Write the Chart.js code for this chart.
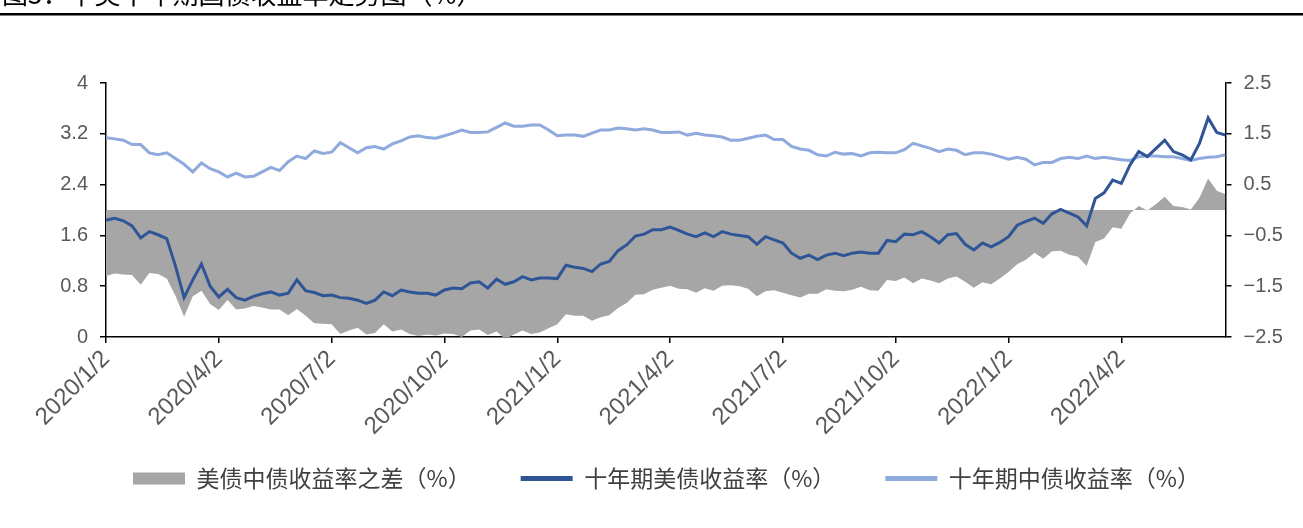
<!DOCTYPE html>
<html lang="zh-CN">
<head>
<meta charset="UTF-8">
<title>中美十年期国债收益率</title>
<script src="https://cdn.jsdelivr.net/npm/chart.js@4.4.1/dist/chart.umd.min.js"></script>
<style>
  html, body { margin: 0; padding: 0; background: #fff; }
  #wrap { width: 1303px; height: 528px; }
</style>
</head>
<body>
<div id="wrap"><canvas id="grafico" width="1303" height="528"></canvas></div>
<script>
const tituloTexto = '图5：中美十年期国债收益率走势图（%）';

// one point per week, 13 weeks per quarter label
const rotulosData = ['2020/1/2', '2020/4/2', '2020/7/2', '2020/10/2', '2021/1/2',
                     '2021/4/2', '2021/7/2', '2021/10/2', '2022/1/2', '2022/4/2'];
const semanasTrimestre = 13;
const ticksEsquerda = [0, 0.8, 1.6, 2.4, 3.2, 4];
const ticksDireita = [-2.5, -1.5, -0.5, 0.5, 1.5, 2.5];

const nomeDiferenca = '美债中债收益率之差（%）';
const nomeEUA = '十年期美债收益率（%）';
const nomeChina = '十年期中债收益率（%）';

const rendEUA = [
  1.84, 1.87, 1.83, 1.75, 1.56, 1.66, 1.61, 1.55, 1.12, 0.62,
  0.90, 1.15, 0.80, 0.63, 0.75, 0.62, 0.58, 0.64, 0.68, 0.71,
  0.66, 0.69, 0.90, 0.73, 0.70, 0.65, 0.66, 0.62, 0.61, 0.58,
  0.53, 0.58, 0.71, 0.65, 0.74, 0.71, 0.69, 0.69, 0.66, 0.74,
  0.77, 0.76, 0.85, 0.87, 0.77, 0.91, 0.83, 0.87, 0.95, 0.90,
  0.93, 0.93, 0.92, 1.13, 1.10, 1.08, 1.03, 1.15, 1.19, 1.36,
  1.45, 1.59, 1.62, 1.69, 1.69, 1.73, 1.68, 1.62, 1.58, 1.64,
  1.58, 1.66, 1.62, 1.60, 1.58, 1.46, 1.58, 1.53, 1.48, 1.32,
  1.24, 1.29, 1.22, 1.29, 1.32, 1.28, 1.32, 1.34, 1.32, 1.32,
  1.52, 1.50, 1.62, 1.61, 1.66, 1.58, 1.48, 1.61, 1.63, 1.46,
  1.37, 1.48, 1.42, 1.49, 1.58, 1.76, 1.82, 1.87, 1.79, 1.94,
  2.01, 1.95, 1.89, 1.75, 2.18, 2.27, 2.47, 2.42, 2.71, 2.92,
  2.84, 2.97, 3.10, 2.92, 2.87, 2.79, 3.05, 3.45, 3.22, 3.18
];

const rendChina = [
  3.14, 3.12, 3.10, 3.03, 3.03, 2.90, 2.87, 2.90, 2.81, 2.72,
  2.60, 2.74, 2.65, 2.60, 2.52, 2.58, 2.52, 2.53, 2.60, 2.67,
  2.62, 2.76, 2.85, 2.81, 2.93, 2.89, 2.91, 3.06, 2.98, 2.90,
  2.98, 3.00, 2.96, 3.04, 3.09, 3.15, 3.17, 3.14, 3.13, 3.17,
  3.21, 3.26, 3.22, 3.22, 3.23, 3.30, 3.37, 3.32, 3.32, 3.34,
  3.34, 3.26, 3.17, 3.18, 3.18, 3.16, 3.21, 3.26, 3.26, 3.29,
  3.28, 3.26, 3.28, 3.26, 3.22, 3.22, 3.23, 3.18, 3.21, 3.18,
  3.17, 3.15, 3.10, 3.10, 3.13, 3.16, 3.18, 3.11, 3.11, 3.00,
  2.96, 2.94, 2.87, 2.85, 2.91, 2.88, 2.89, 2.85, 2.90, 2.91,
  2.90, 2.90, 2.95, 3.05, 3.01, 2.97, 2.92, 2.96, 2.94, 2.87,
  2.90, 2.90, 2.88, 2.84, 2.80, 2.83, 2.80, 2.71, 2.75, 2.75,
  2.81, 2.83, 2.81, 2.85, 2.81, 2.83, 2.81, 2.79, 2.78, 2.84,
  2.85, 2.85, 2.84, 2.84, 2.81, 2.78, 2.81, 2.83, 2.84, 2.87
];

const diferenca = [
  -1.30, -1.25, -1.27, -1.28, -1.47, -1.24, -1.26, -1.35, -1.69, -2.10,
  -1.70, -1.59, -1.85, -1.97, -1.77, -1.96, -1.94, -1.89, -1.92, -1.96,
  -1.96, -2.07, -1.95, -2.08, -2.23, -2.24, -2.25, -2.44, -2.37, -2.32,
  -2.45, -2.42, -2.25, -2.39, -2.35, -2.44, -2.48, -2.45, -2.47, -2.43,
  -2.44, -2.50, -2.37, -2.35, -2.46, -2.39, -2.54, -2.45, -2.37, -2.44,
  -2.41, -2.33, -2.25, -2.05, -2.08, -2.08, -2.18, -2.11, -2.07, -1.93,
  -1.83, -1.67, -1.66, -1.57, -1.53, -1.49, -1.55, -1.56, -1.63, -1.54,
  -1.59, -1.49, -1.48, -1.50, -1.55, -1.70, -1.60, -1.58, -1.63, -1.68,
  -1.72, -1.65, -1.65, -1.56, -1.59, -1.60, -1.57, -1.51, -1.58, -1.59,
  -1.38, -1.40, -1.33, -1.44, -1.35, -1.39, -1.44, -1.35, -1.31, -1.41,
  -1.53, -1.42, -1.46, -1.35, -1.22, -1.07, -0.98, -0.84, -0.96, -0.81,
  -0.80, -0.88, -0.92, -1.10, -0.63, -0.56, -0.34, -0.37, -0.07, 0.08,
  -0.01, 0.12, 0.26, 0.08, 0.06, 0.01, 0.24, 0.62, 0.38, 0.31
];

const corEUA = '#2F5597';
const corChina = '#8FAADC';
const corCinza = '#A6A6A6';
const fonteNum = '"Liberation Sans", Arial, sans-serif';
const fonteCJK = '"Noto Sans CJK SC", "Noto Sans", sans-serif';
const espacoLegenda = 50;

function pontos(valores) {
  return valores.map((v, i) => ({ x: i, y: v }));
}

const tituloPlugin = {
  id: 'tituloTopo',
  afterDraw(chart) {
    const ctx = chart.ctx;
    ctx.save();
    ctx.fillStyle = '#000';
    ctx.font = '26px ' + fonteCJK;
    ctx.textBaseline = 'alphabetic';
    ctx.textAlign = 'left';
    ctx.fillText(tituloTexto, 2, 4);
    ctx.fillRect(0, 13, chart.width, 2.5);
    ctx.restore();
  }
};

const fundoBranco = {
  id: 'fundoBranco',
  beforeDraw(chart) {
    const ctx = chart.ctx;
    ctx.save();
    ctx.fillStyle = '#fff';
    ctx.fillRect(0, 0, chart.width, chart.height);
    ctx.restore();
  }
};

// the x labels are clipped to their own box, so the legend is pulled up over it afterwards
const subirLegenda = {
  id: 'subirLegenda',
  afterLayout(chart) {
    const lg = chart.legend;
    if (!lg) return;
    const d = lg.top - 417;
    lg.top -= d;
    lg.bottom -= d;
    lg.left += 15;
    lg.right += 15;
  }
};

new Chart(document.getElementById('grafico'), {
  type: 'line',
  data: {
    datasets: [
      {
        label: nomeDiferenca,
        data: pontos(diferenca),
        yAxisID: 'yDir',
        backgroundColor: corCinza,
        borderColor: corCinza,
        borderWidth: 0,
        fill: 'origin',
        pointRadius: 0,
        pointStyle: 'rect',
        order: 3
      },
      {
        label: nomeEUA,
        data: pontos(rendEUA),
        yAxisID: 'yEsq',
        borderColor: corEUA,
        backgroundColor: corEUA,
        borderWidth: 3,
        fill: false,
        pointRadius: 0,
        pointStyle: 'line',
        order: 1
      },
      {
        label: nomeChina,
        data: pontos(rendChina),
        yAxisID: 'yEsq',
        borderColor: corChina,
        backgroundColor: corChina,
        borderWidth: 3,
        fill: false,
        pointRadius: 0,
        pointStyle: 'line',
        order: 2
      }
    ]
  },
  options: {
    responsive: false,
    animation: false,
    devicePixelRatio: 1,
    layout: { padding: { top: 83, left: 0, right: 0, bottom: 0 } },
    plugins: {
      tooltip: { enabled: false },
      legend: {
        position: 'bottom',
        maxHeight: 81,
        labels: {
          usePointStyle: true,
          pointStyleWidth: 52,
          boxHeight: 12,
          padding: espacoLegenda,
          color: '#404040',
          font: { family: fonteCJK, size: 23 },
          sort: (a, b) => a.datasetIndex - b.datasetIndex,
          generateLabels(chart) {
            const itens = Chart.defaults.plugins.legend.labels.generateLabels(chart);
            itens.forEach(it => { if (it.pointStyle === 'line') it.lineWidth = 5; });
            return itens;
          }
        }
      }
    },
    scales: {
      x: {
        type: 'linear',
        min: 0,
        max: rendEUA.length - 1,
        afterBuildTicks(scale) {
          scale.ticks = rotulosData.map((_, k) => ({ value: k * semanasTrimestre }));
        },
        afterFit(scale) { scale.height = 110; },
        border: { display: true, color: '#000', width: 1.5 },
        grid: { drawOnChartArea: false, drawTicks: true, tickLength: 6, color: '#000', lineWidth: 1.5 },
        ticks: {
          autoSkip: false,
          minRotation: 45,
          maxRotation: 45,
          padding: 2,
          color: '#595959',
          font: { family: fonteNum, size: 24 },
          callback: (v, i) => rotulosData[i]
        }
      },
      yEsq: {
        type: 'linear',
        position: 'left',
        min: 0,
        max: 4,
        afterBuildTicks(scale) {
          scale.ticks = ticksEsquerda.map(v => ({ value: v }));
        },
        afterFit(scale) { scale.width = 106; },
        border: { display: true, color: '#000', width: 1.5 },
        grid: { drawOnChartArea: false, drawTicks: true, tickLength: 6, color: '#000', lineWidth: 1.5 },
        ticks: {
          padding: 12,
          color: '#595959',
          font: { family: fonteNum, size: 20 },
          callback: v => String(v)
        }
      },
      yDir: {
        type: 'linear',
        position: 'right',
        min: -2.5,
        max: 2.5,
        afterBuildTicks(scale) {
          scale.ticks = ticksDireita.map(v => ({ value: v }));
        },
        afterFit(scale) { scale.width = 77.5; },
        border: { display: true, color: '#000', width: 1.5 },
        grid: { drawOnChartArea: false, drawTicks: true, tickLength: 6, color: '#000', lineWidth: 1.5 },
        ticks: {
          padding: 12,
          color: '#595959',
          font: { family: fonteNum, size: 20 },
          callback: v => (v < 0 ? '\u2212' + Math.abs(v).toFixed(1) : v.toFixed(1))
        }
      }
    }
  },
  plugins: [fundoBranco, tituloPlugin, subirLegenda]
});
</script>
</body>
</html>
